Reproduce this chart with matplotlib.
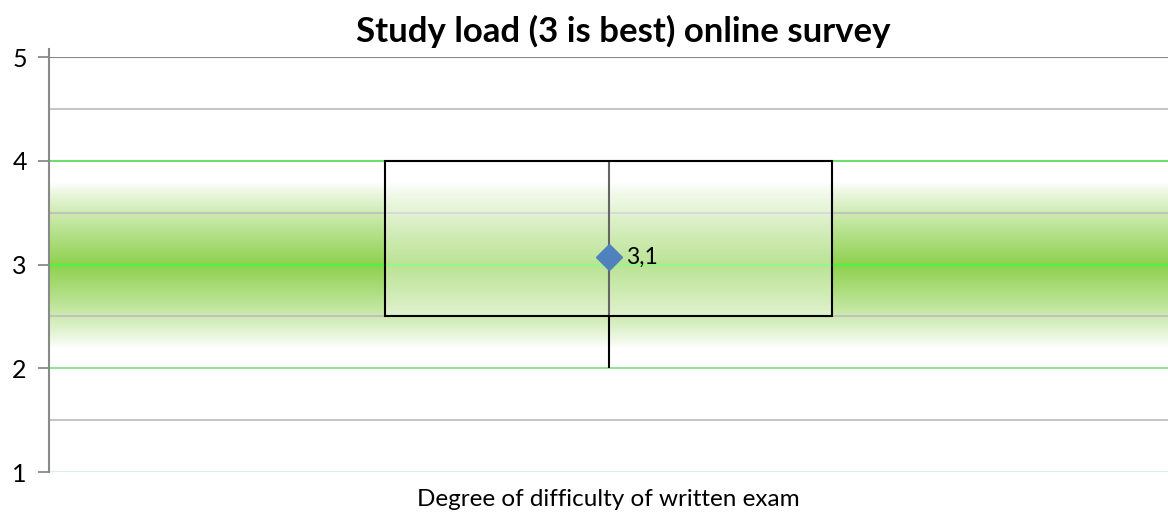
import numpy as np
import matplotlib.pyplot as plt
from matplotlib.colors import LinearSegmentedColormap

# box statistics
category = "Degree of difficulty of written exam"
whisker_low = 2.0
box_q1 = 2.5
box_q3 = 4.0
whisker_high = 4.0
mean_value = 3.07
mean_label = "3,1"

# target band (3 is best)
band_center = 3.0
band_half = 0.8

y_ticks = [1, 2, 3, 4, 5]
title = "Study load (3 is best) online survey"

plt.rcParams['font.family'] = ['Lato', 'DejaVu Sans']

fig = plt.figure(figsize=(11.68, 5.2), dpi=100)
ax = fig.add_axes([0.042, 0.0923, 0.958, 0.798])
ax.set_xlim(0, 1)
ax.set_ylim(1, 5)

# green gradient band around the ideal value
yy = np.linspace(band_center - band_half, band_center + band_half, 300)
d = np.abs(yy - band_center) / band_half
strength = np.clip(1 - d, 0, 1) ** 0.85
cmap = LinearSegmentedColormap.from_list('band', ['#ffffff', '#8fd14f'])
ax.imshow(strength[:, None], extent=(0, 1, yy[0], yy[-1]), origin='lower',
          aspect='auto', cmap=cmap, vmin=0, vmax=1, zorder=0)

# gridlines
for y in [1.5, 2.5, 3.5, 4.5]:
    ax.axhline(y, color='#bfbfbf', lw=1.3, zorder=1)
ax.axhline(2, color='#8ee596', lw=1.5, zorder=1)
ax.axhline(4, color='#6ddd72', lw=1.5, zorder=1)
ax.axhline(3, color='#4cf53c', lw=1.5, zorder=1)
ax.axhline(5, color='#868686', lw=1.5, zorder=1)
ax.axhline(1, color='#dcefe8', lw=1.5, zorder=1)

# box plot drawn by hand
pos = 0.5
ax.vlines(pos, whisker_low, whisker_high, color='black', lw=1.5, zorder=3)
ax.bar(pos, box_q3 - box_q1, bottom=box_q1, width=0.4,
       facecolor=(1, 1, 1, 0.4), edgecolor='black', lw=1.5, zorder=4)
ax.plot([pos], [mean_value], 'D', color='#4f81bd', markersize=13, zorder=5)
ax.annotate(mean_label, (pos, mean_value), xytext=(12.5, 0),
            textcoords='offset points', va='center', fontsize=16.5, zorder=6)

ax.set_yticks(y_ticks)
ax.set_yticklabels([str(v) for v in y_ticks], fontsize=18)
ax.set_xticks([])
ax.tick_params(axis='y', length=8, width=1.3, color='#898989', pad=8)
for side in ['top', 'right', 'bottom']:
    ax.spines[side].set_visible(False)
ax.spines['left'].set_color('#898989')
ax.spines['left'].set_linewidth(1.5)
ax.spines['left'].set_bounds(1, 5.08)
ax.spines['left'].set_clip_on(False)

ax.set_xlabel(category, fontsize=17.5, labelpad=12)
fig.text(623 / 1168, 1 - 31 / 520, title, ha='center', va='center',
         fontsize=25, fontweight='bold')

fig.savefig('out.png', dpi=100)
